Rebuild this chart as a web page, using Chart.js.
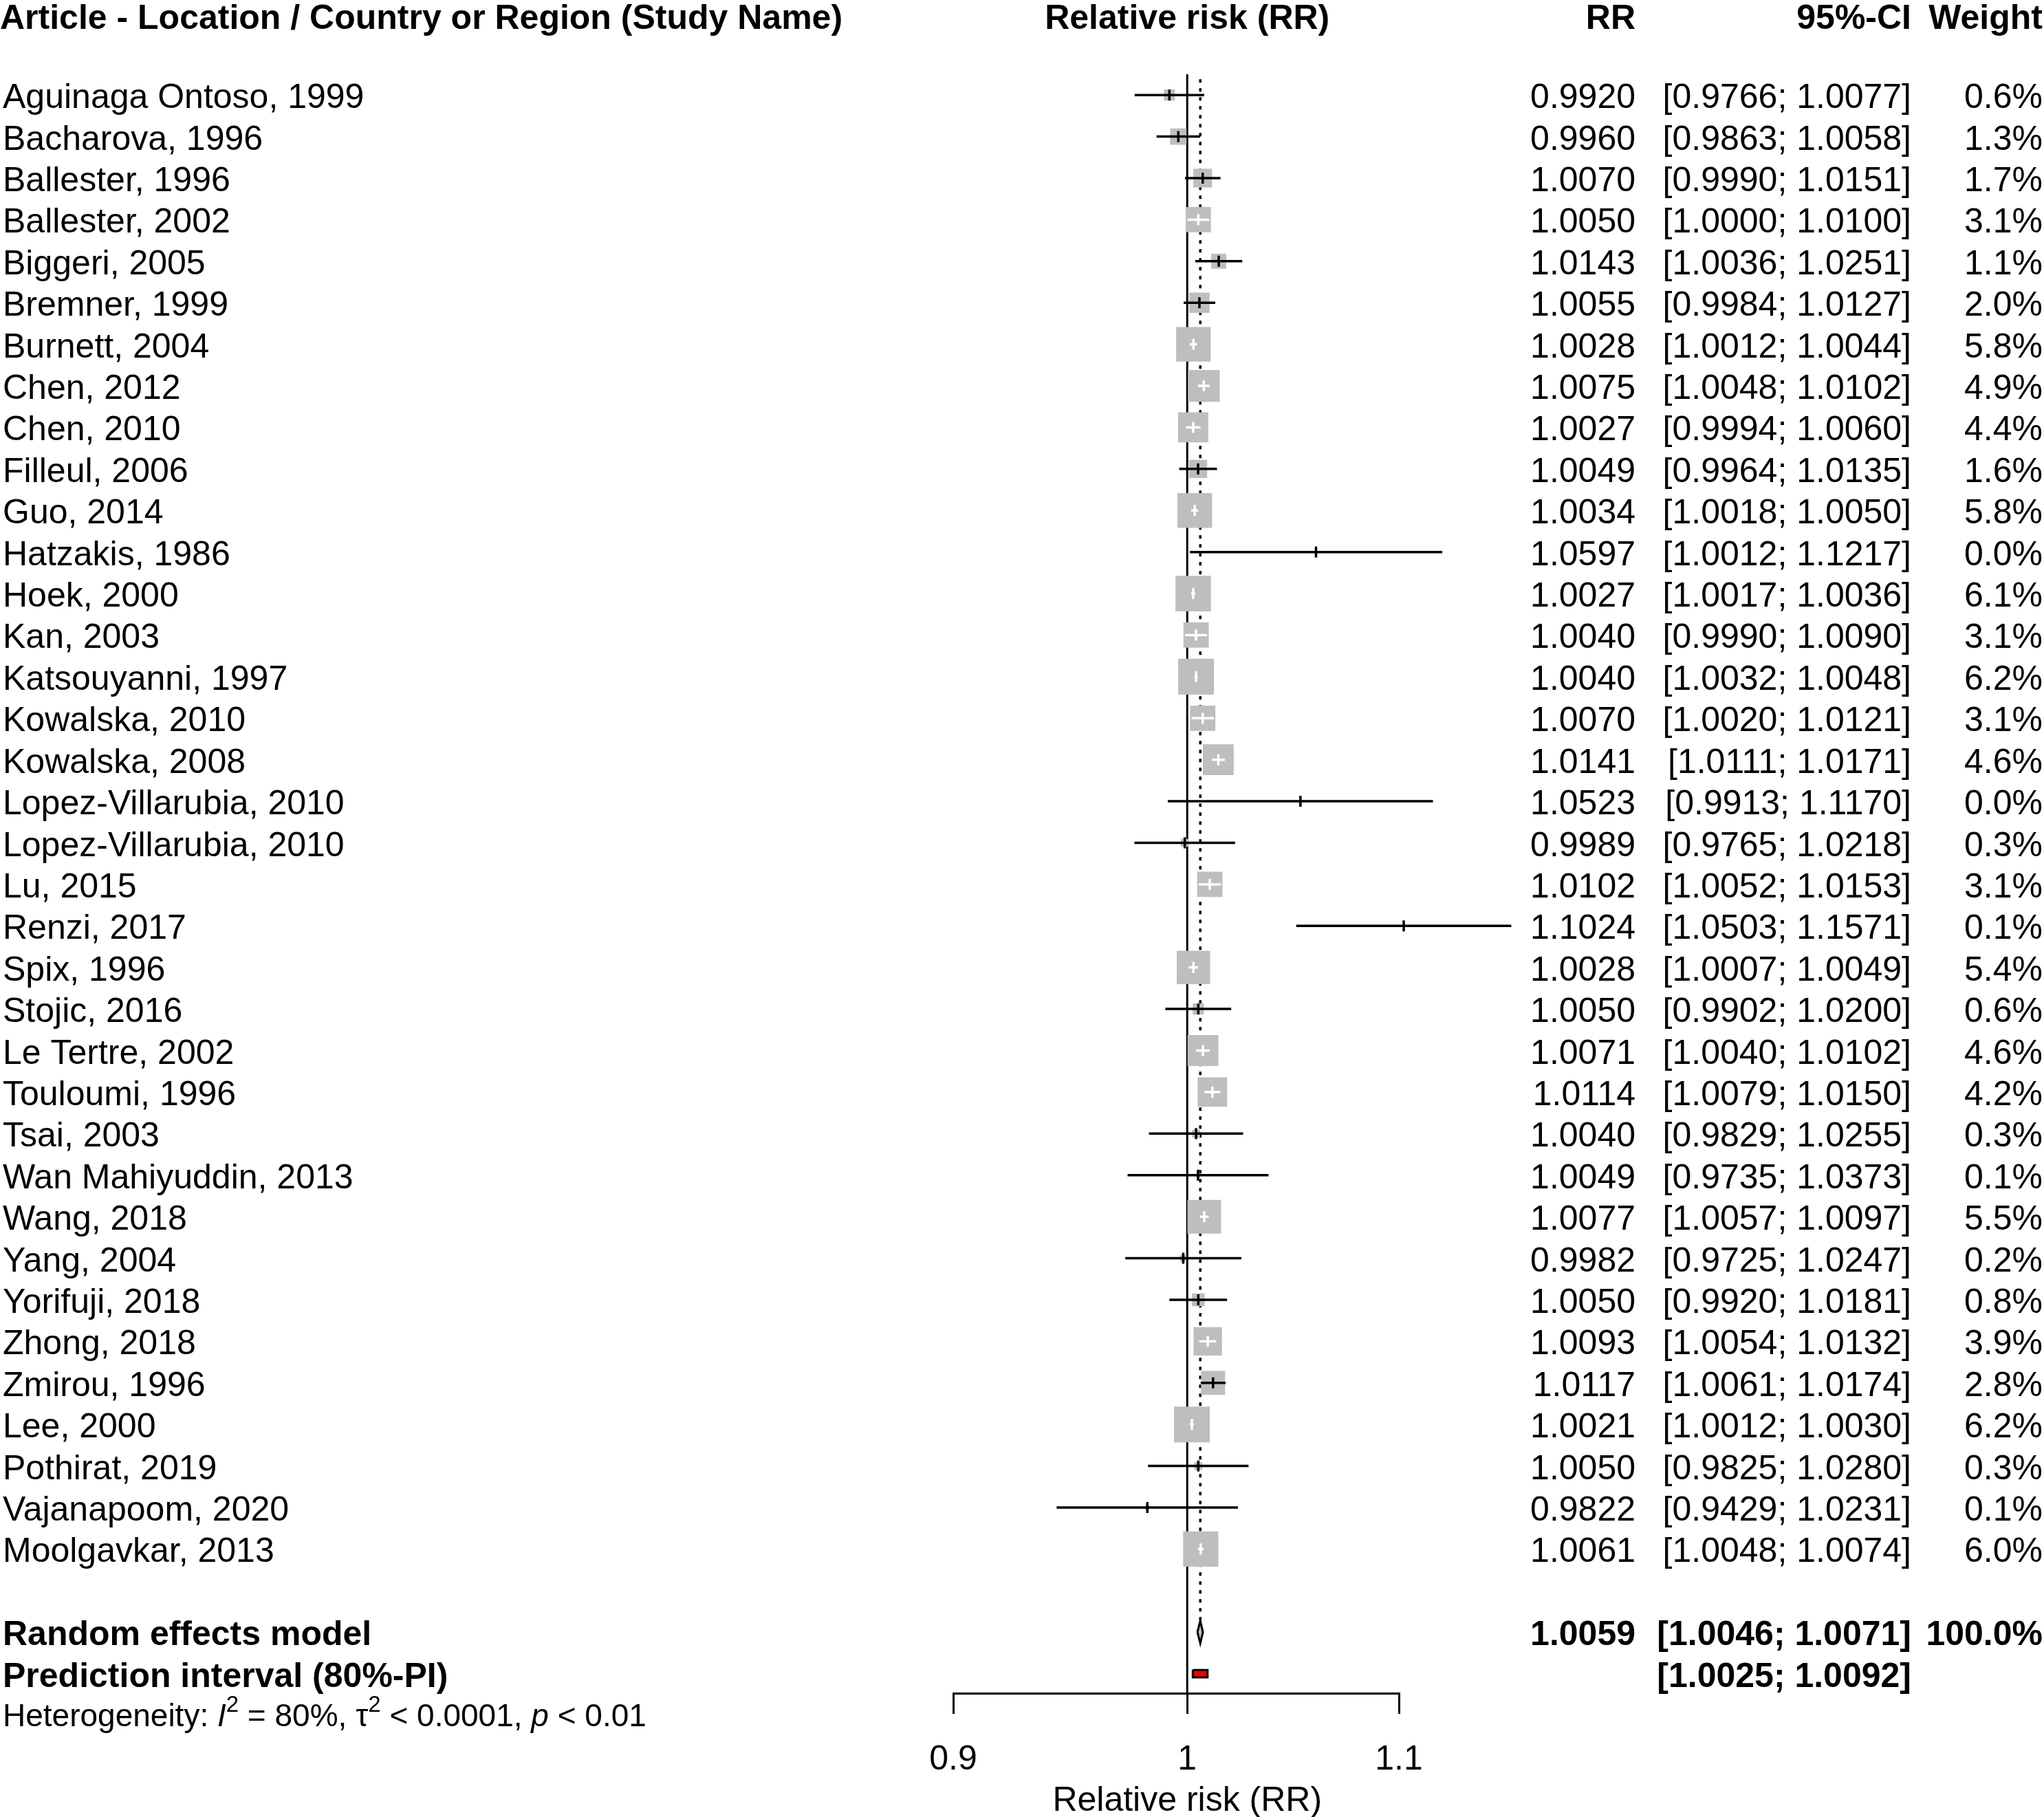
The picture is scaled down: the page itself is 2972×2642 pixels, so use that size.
<!DOCTYPE html>
<html>
<head>
<meta charset="utf-8">
<script src="https://cdn.jsdelivr.net/npm/chart.js@4.4.1/dist/chart.umd.min.js"></script>
<style>
  body { margin: 0; background: #fff; }
  canvas { display: block; }
</style>
</head>
<body>
<canvas id="graficoForest" width="2972" height="2642"></canvas>
<script>
const studies = [
  'Aguinaga Ontoso, 1999', 'Bacharova, 1996', 'Ballester, 1996', 'Ballester, 2002',
  'Biggeri, 2005', 'Bremner, 1999', 'Burnett, 2004', 'Chen, 2012', 'Chen, 2010',
  'Filleul, 2006', 'Guo, 2014', 'Hatzakis, 1986', 'Hoek, 2000', 'Kan, 2003',
  'Katsouyanni, 1997', 'Kowalska, 2010', 'Kowalska, 2008', 'Lopez-Villarubia, 2010',
  'Lopez-Villarubia, 2010', 'Lu, 2015', 'Renzi, 2017', 'Spix, 1996', 'Stojic, 2016',
  'Le Tertre, 2002', 'Touloumi, 1996', 'Tsai, 2003', 'Wan Mahiyuddin, 2013',
  'Wang, 2018', 'Yang, 2004', 'Yorifuji, 2018', 'Zhong, 2018', 'Zmirou, 1996',
  'Lee, 2000', 'Pothirat, 2019', 'Vajanapoom, 2020', 'Moolgavkar, 2013'
];
const rr = [
  0.9920, 0.9960, 1.0070, 1.0050, 1.0143, 1.0055, 1.0028, 1.0075, 1.0027,
  1.0049, 1.0034, 1.0597, 1.0027, 1.0040, 1.0040, 1.0070, 1.0141, 1.0523,
  0.9989, 1.0102, 1.1024, 1.0028, 1.0050, 1.0071, 1.0114, 1.0040, 1.0049,
  1.0077, 0.9982, 1.0050, 1.0093, 1.0117, 1.0021, 1.0050, 0.9822, 1.0061
];
const ciLow = [
  0.9766, 0.9863, 0.9990, 1.0000, 1.0036, 0.9984, 1.0012, 1.0048, 0.9994,
  0.9964, 1.0018, 1.0012, 1.0017, 0.9990, 1.0032, 1.0020, 1.0111, 0.9913,
  0.9765, 1.0052, 1.0503, 1.0007, 0.9902, 1.0040, 1.0079, 0.9829, 0.9735,
  1.0057, 0.9725, 0.9920, 1.0054, 1.0061, 1.0012, 0.9825, 0.9429, 1.0048
];
const ciHigh = [
  1.0077, 1.0058, 1.0151, 1.0100, 1.0251, 1.0127, 1.0044, 1.0102, 1.0060,
  1.0135, 1.0050, 1.1217, 1.0036, 1.0090, 1.0048, 1.0121, 1.0171, 1.1170,
  1.0218, 1.0153, 1.1571, 1.0049, 1.0200, 1.0102, 1.0150, 1.0255, 1.0373,
  1.0097, 1.0247, 1.0181, 1.0132, 1.0174, 1.0030, 1.0280, 1.0231, 1.0074
];
const weights = [
  0.6, 1.3, 1.7, 3.1, 1.1, 2.0, 5.8, 4.9, 4.4,
  1.6, 5.8, 0.0, 6.1, 3.1, 6.2, 3.1, 4.6, 0.0,
  0.3, 3.1, 0.1, 5.4, 0.6, 4.6, 4.2, 0.3, 0.1,
  5.5, 0.2, 0.8, 3.9, 2.8, 6.2, 0.3, 0.1, 6.0
];
const randomEst = 1.0059;
const randomCI = [1.0046, 1.0071];
const predInterval = [1.0025, 1.0092];
const xTicks = [0.9, 1, 1.1];

const fam = '"Liberation Sans", Arial, sans-serif';
const n = studies.length;
const rowRandom = n + 1;
const rowPred = n + 2;
const rowHet = n + 3;
const rowHeader = -1.9;

const boxSide = w => 20.9 * Math.sqrt(w);

// CI drawn in white when it fits inside the grey box
function ciInside(chart, i) {
  const x = chart.scales.x;
  const half = boxSide(weights[i]) / 2;
  const c = x.getPixelForValue(rr[i]);
  return weights[i] > 0 && x.getPixelForValue(ciLow[i]) >= c - half && x.getPixelForValue(ciHigh[i]) <= c + half;
}

const ciData = [];
studies.forEach((s, i) => {
  ciData.push({x: ciLow[i], y: i}, {x: ciHigh[i], y: i}, {x: null, y: null});
});

const diamondH = 0.27;
const predH = 0.09;

const textPlugin = {
  id: 'forestText',
  afterDraw(chart) {
    const {ctx, scales: {x, y}} = chart;
    const base = r => y.getPixelForValue(r) + 19;
    const put = (s, px, r, align, bold) => {
      ctx.font = (bold ? 'bold ' : '') + '50px ' + fam;
      ctx.textAlign = align;
      ctx.fillText(s, px, base(r));
    };
    const colRR = 2378, colCI = 2779, colW = 2970;
    ctx.save();
    ctx.fillStyle = '#000';
    ctx.textBaseline = 'alphabetic';

    put('Article - Location / Country or Region (Study Name)', 0, rowHeader, 'left', true);
    put('Relative risk (RR)', x.getPixelForValue(1), rowHeader, 'center', true);
    put('RR', colRR, rowHeader, 'right', true);
    put('95%-CI', colCI, rowHeader, 'right', true);
    put('Weight', colW, rowHeader, 'right', true);

    studies.forEach((s, i) => {
      put(s, 4, i, 'left', false);
      put(rr[i].toFixed(4), colRR, i, 'right', false);
      put('[' + ciLow[i].toFixed(4) + '; ' + ciHigh[i].toFixed(4) + ']', colCI, i, 'right', false);
      put(weights[i].toFixed(1) + '%', colW, i, 'right', false);
    });

    put('Random effects model', 4, rowRandom, 'left', true);
    put(randomEst.toFixed(4), colRR, rowRandom, 'right', true);
    put('[' + randomCI[0].toFixed(4) + '; ' + randomCI[1].toFixed(4) + ']', colCI, rowRandom, 'right', true);
    put('100.0%', colW, rowRandom, 'right', true);
    put('Prediction interval (80%-PI)', 4, rowPred, 'left', true);
    put('[' + predInterval[0].toFixed(4) + '; ' + predInterval[1].toFixed(4) + ']', colCI, rowPred, 'right', true);

    // x axis title, centred on RR = 1
    ctx.font = '50px ' + fam;
    ctx.textAlign = 'center';
    ctx.fillText('Relative risk (RR)', x.getPixelForValue(1), x.bottom - 9);

    // heterogeneity line with italics and superscripts
    const parts = [
      {t: 'Heterogeneity: '}, {t: 'I', it: true}, {t: '2', sup: true}, {t: ' = 80%, '},
      {t: 'τ'}, {t: '2', sup: true}, {t: ' < 0.0001, '}, {t: 'p', it: true}, {t: ' < 0.01'}
    ];
    let px = 4;
    const by = y.getPixelForValue(rowHet) + 16;
    ctx.textAlign = 'left';
    parts.forEach(p => {
      ctx.font = (p.it ? 'italic ' : '') + (p.sup ? '33px ' : '46px ') + fam;
      ctx.fillText(p.t, px, p.sup ? by - 21 : by);
      px += ctx.measureText(p.t).width;
    });
    ctx.restore();
  }
};

new Chart(document.getElementById('graficoForest'), {
  type: 'scatter',
  data: {
    datasets: [
      {
        // reference line at RR = 1
        type: 'line',
        data: [{x: 1, y: -0.5}, {x: 1, y: 38.47}],
        borderColor: '#000', borderWidth: 3, pointRadius: 0, clip: false, order: 10
      },
      {
        // pooled estimate, dotted
        type: 'line',
        data: [{x: randomEst, y: -0.38}, {x: randomEst, y: rowRandom - diamondH}],
        borderColor: '#000', borderWidth: 3.5, borderDash: [5, 8], pointRadius: 0, clip: false, order: 9
      },
      {
        // study boxes
        data: rr.map((v, i) => ({x: v, y: i})),
        pointStyle: 'rect',
        pointRadius: c => boxSide(weights[c.dataIndex]) / Math.SQRT2,
        backgroundColor: '#bebebe', borderWidth: 0, clip: false, order: 5
      },
      {
        // confidence intervals
        type: 'line',
        data: ciData,
        spanGaps: false,
        borderColor: '#000', borderWidth: 3.5, pointRadius: 0, clip: false, order: 3,
        segment: {
          borderColor: c => ciInside(c.chart, Math.floor(c.p0DataIndex / 3)) ? '#fff' : '#000'
        }
      },
      {
        // point estimate tick
        data: rr.map((v, i) => ({x: v, y: i})),
        pointStyle: 'line', rotation: 90, pointRadius: 8,
        borderWidth: 3.5,
        borderColor: c => ciInside(c.chart, c.dataIndex) ? '#fff' : '#000',
        clip: false, order: 2
      },
      {
        // random effects diamond
        type: 'line',
        data: [
          {x: randomCI[0], y: rowRandom}, {x: randomEst, y: rowRandom - diamondH},
          {x: randomCI[1], y: rowRandom}, {x: randomEst, y: rowRandom + diamondH},
          {x: randomCI[0], y: rowRandom}
        ],
        fill: 'shape', backgroundColor: '#bebebe',
        borderColor: '#000', borderWidth: 3, pointRadius: 0, clip: false, order: 1
      },
      {
        // prediction interval
        type: 'line',
        data: [
          {x: predInterval[0], y: rowPred - predH}, {x: predInterval[1], y: rowPred - predH},
          {x: predInterval[1], y: rowPred + predH}, {x: predInterval[0], y: rowPred + predH},
          {x: predInterval[0], y: rowPred - predH}
        ],
        fill: 'shape', backgroundColor: '#ee0000',
        borderColor: '#000', borderWidth: 3, pointRadius: 0, clip: false, order: 1
      }
    ]
  },
  options: {
    responsive: false,
    animation: false,
    events: [],
    layout: {padding: {left: 1386, right: 938, top: 108, bottom: 0}},
    plugins: {legend: {display: false}, tooltip: {enabled: false}},
    scales: {
      x: {
        type: 'logarithmic',
        min: 0.9, max: 1.1,
        afterBuildTicks: s => { s.ticks = xTicks.map(v => ({value: v})); },
        afterFit: s => { s.height = 180; },
        grid: {drawOnChartArea: false, drawTicks: true, tickLength: 30, color: '#000', lineWidth: 3},
        border: {display: true, color: '#000', width: 3},
        ticks: {
          color: '#000', font: {size: 50, family: fam}, padding: 37,
          autoSkip: false, maxRotation: 0, callback: v => String(v)
        },
        title: {display: false}
      },
      y: {
        type: 'linear', reverse: true, min: -0.5, max: 38.47, display: false
      }
    }
  },
  plugins: [textPlugin]
});
</script>
</body>
</html>
